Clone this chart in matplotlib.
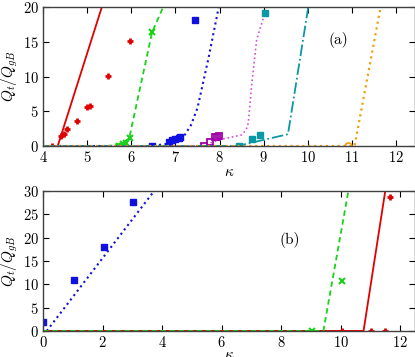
import matplotlib
matplotlib.use('Agg')
import matplotlib.pyplot as plt
import numpy as np

plt.rcParams['font.family'] = ['cmr10', 'DejaVu Serif']
plt.rcParams['mathtext.fontset'] = 'cm'
plt.rcParams['axes.formatter.use_mathtext'] = True

# ---- panel (a) ----
red_a_x = [4.2, 4.4, 4.48, 4.55, 4.76, 4.99, 5.06, 5.46, 5.98]
red_a_y = [0, 1.5, 1.7, 2.4, 3.6, 5.55, 5.8, 10.1, 15.1]
red_a_lx = [4.0, 4.33, 5.33]
red_a_ly = [0, 0, 20]

green_a_x = [5.73, 5.8, 5.88, 5.98, 6.46]
green_a_y = [0, 0.3, 0.4, 1.1, 16.4]
green_a_lx = [4.0, 5.45, 5.6, 5.78, 5.95, 6.47, 6.72]
green_a_ly = [0, 0, 0.1, 0.4, 1.1, 16.4, 20]

blue_a_x = [6.47, 6.85, 6.92, 7.0, 7.07, 7.11, 7.45]
blue_a_y = [0, 0.6, 0.9, 1.0, 1.2, 1.3, 18.1]
blue_a_lx = [4.0, 6.45, 6.8, 7.0, 7.2, 7.35, 7.5, 7.75, 7.98]
blue_a_ly = [0, 0, 0.3, 0.7, 1.5, 3.0, 5.5, 12.7, 20]

mag_a_x = [7.64, 7.79, 7.89, 7.94, 7.99]
mag_a_y = [0, 0.6, 1.25, 1.3, 1.5]
mag_a_lx = [4.0, 7.6, 8.0, 8.5, 8.6, 8.65, 8.73, 8.84, 9.07]
mag_a_ly = [0, 0, 0.9, 1.6, 2.3, 3.3, 9.0, 15.3, 20]

teal_a_x = [8.43, 8.73, 8.92, 9.03]
teal_a_y = [0, 0.96, 1.6, 19.2]
teal_a_lx = [4.0, 8.4, 9.55, 10.01]
teal_a_ly = [0, 0, 1.7, 20]

orange_a_x = [10.91]
orange_a_y = [0]
orange_a_lx = [4.0, 11.06, 11.65]
orange_a_ly = [0, 0, 20]

# ---- panel (b) ----
blue_b_x = [0.0, 1.02, 2.03, 3.01]
blue_b_y = [1.9, 11.0, 18.0, 27.6]
blue_b_lx = [0.12, 3.73]
blue_b_ly = [0, 30]

green_b_x = [9.03, 10.04]
green_b_y = [0, 10.6]
green_b_lx = [0.0, 9.42, 10.26]
green_b_ly = [0, 0, 30]

red_b_x = [10.04, 11.01, 11.5, 11.66]
red_b_y = [0, 0, 0, 28.7]
red_b_lx = [0.0, 10.77, 11.5]
red_b_ly = [0, 0, 30]

RED = '#e00000'
GREEN = '#19d219'
BLUE = '#1010e0'
MAG = '#a000a8'
MAGL = '#d050d8'
TEAL = '#0a98a4'
ORANGE = '#f0a010'

fig = plt.figure(figsize=(4.15, 3.57), dpi=100)
ax1 = fig.add_axes([0.104, 0.591, 0.896, 0.389])
ax2 = fig.add_axes([0.104, 0.073, 0.896, 0.392])

# panel (a)
ax1.plot(red_a_lx, red_a_ly, '-', color=RED, lw=1.3)
ax1.plot(red_a_x, red_a_y, '+', color=RED, ms=5, mew=2, ls='none')
ax1.plot(green_a_lx, green_a_ly, '--', color=GREEN, lw=1.3, dashes=(3, 2))
ax1.plot(green_a_x, green_a_y, 'x', color=GREEN, ms=5, mew=1.5, ls='none')
ax1.plot(blue_a_lx, blue_a_ly, ':', color=BLUE, lw=1.5)
ax1.plot(blue_a_x, blue_a_y, 's', color=BLUE, ms=4.5, ls='none')
ax1.plot(mag_a_lx, mag_a_ly, ':', color=MAGL, lw=1.2)
ax1.plot(mag_a_x, mag_a_y, 's', mfc='none', mec=MAG, mew=1.3, ms=5, ls='none')
ax1.plot(teal_a_lx, teal_a_ly, '-.', color=TEAL, lw=1.3)
ax1.plot(teal_a_x, teal_a_y, 's', color=TEAL, ms=4.5, ls='none')
ax1.plot(orange_a_lx, orange_a_ly, ':', color=ORANGE, lw=1.6)
ax1.plot(orange_a_x, orange_a_y, 'o', mfc='none', mec=ORANGE, mew=1.3, ms=5, ls='none')

ax1.set_xlim(4, 12.43)
ax1.set_ylim(0, 20)
ax1.set_xticks(np.arange(4, 13, 1))
ax1.set_yticks(np.arange(0, 21, 5))
ax1.set_xlabel(r'$\kappa$', fontsize=11, labelpad=0)
ax1.set_ylabel(r'$Q_t/Q_{gB}$', fontsize=11, labelpad=2)
ax1.text(10.7, 15.3, '(a)', fontsize=11, ha='center', va='center')

# panel (b)
ax2.plot(blue_b_lx, blue_b_ly, ':', color=BLUE, lw=1.5)
ax2.plot(blue_b_x, blue_b_y, 's', color=BLUE, ms=4.5, ls='none')
ax2.plot(red_b_lx, red_b_ly, '-', color=RED, lw=1.3)
ax2.plot(red_b_x, red_b_y, '+', color=RED, ms=5, mew=2, ls='none')
ax2.plot(green_b_lx, green_b_ly, '--', color=GREEN, lw=1.3, dashes=(3, 2))
ax2.plot(green_b_x, green_b_y, 'x', color=GREEN, ms=5, mew=1.5, ls='none')

ax2.set_xlim(0, 12.5)
ax2.set_ylim(0, 30)
ax2.set_xticks(np.arange(0, 13, 2))
ax2.set_yticks(np.arange(0, 31, 5))
ax2.set_xlabel(r'$\kappa$', fontsize=11, labelpad=-1)
ax2.set_ylabel(r'$Q_t/Q_{gB}$', fontsize=11, labelpad=2)
ax2.text(8.3, 19.6, '(b)', fontsize=11, ha='center', va='center')

for ax in (ax1, ax2):
    ax.tick_params(direction='in', top=True, right=True, labelsize=10.5,
                   length=4, width=0.8, pad=3)
    for s in ax.spines.values():
        s.set_color('#404040')
        s.set_linewidth(1.0)
    for lab in ax.get_xticklabels() + ax.get_yticklabels():
        lab.set_fontfamily(['cmr10', 'DejaVu Serif'])

fig.savefig('out.png', dpi=100)
